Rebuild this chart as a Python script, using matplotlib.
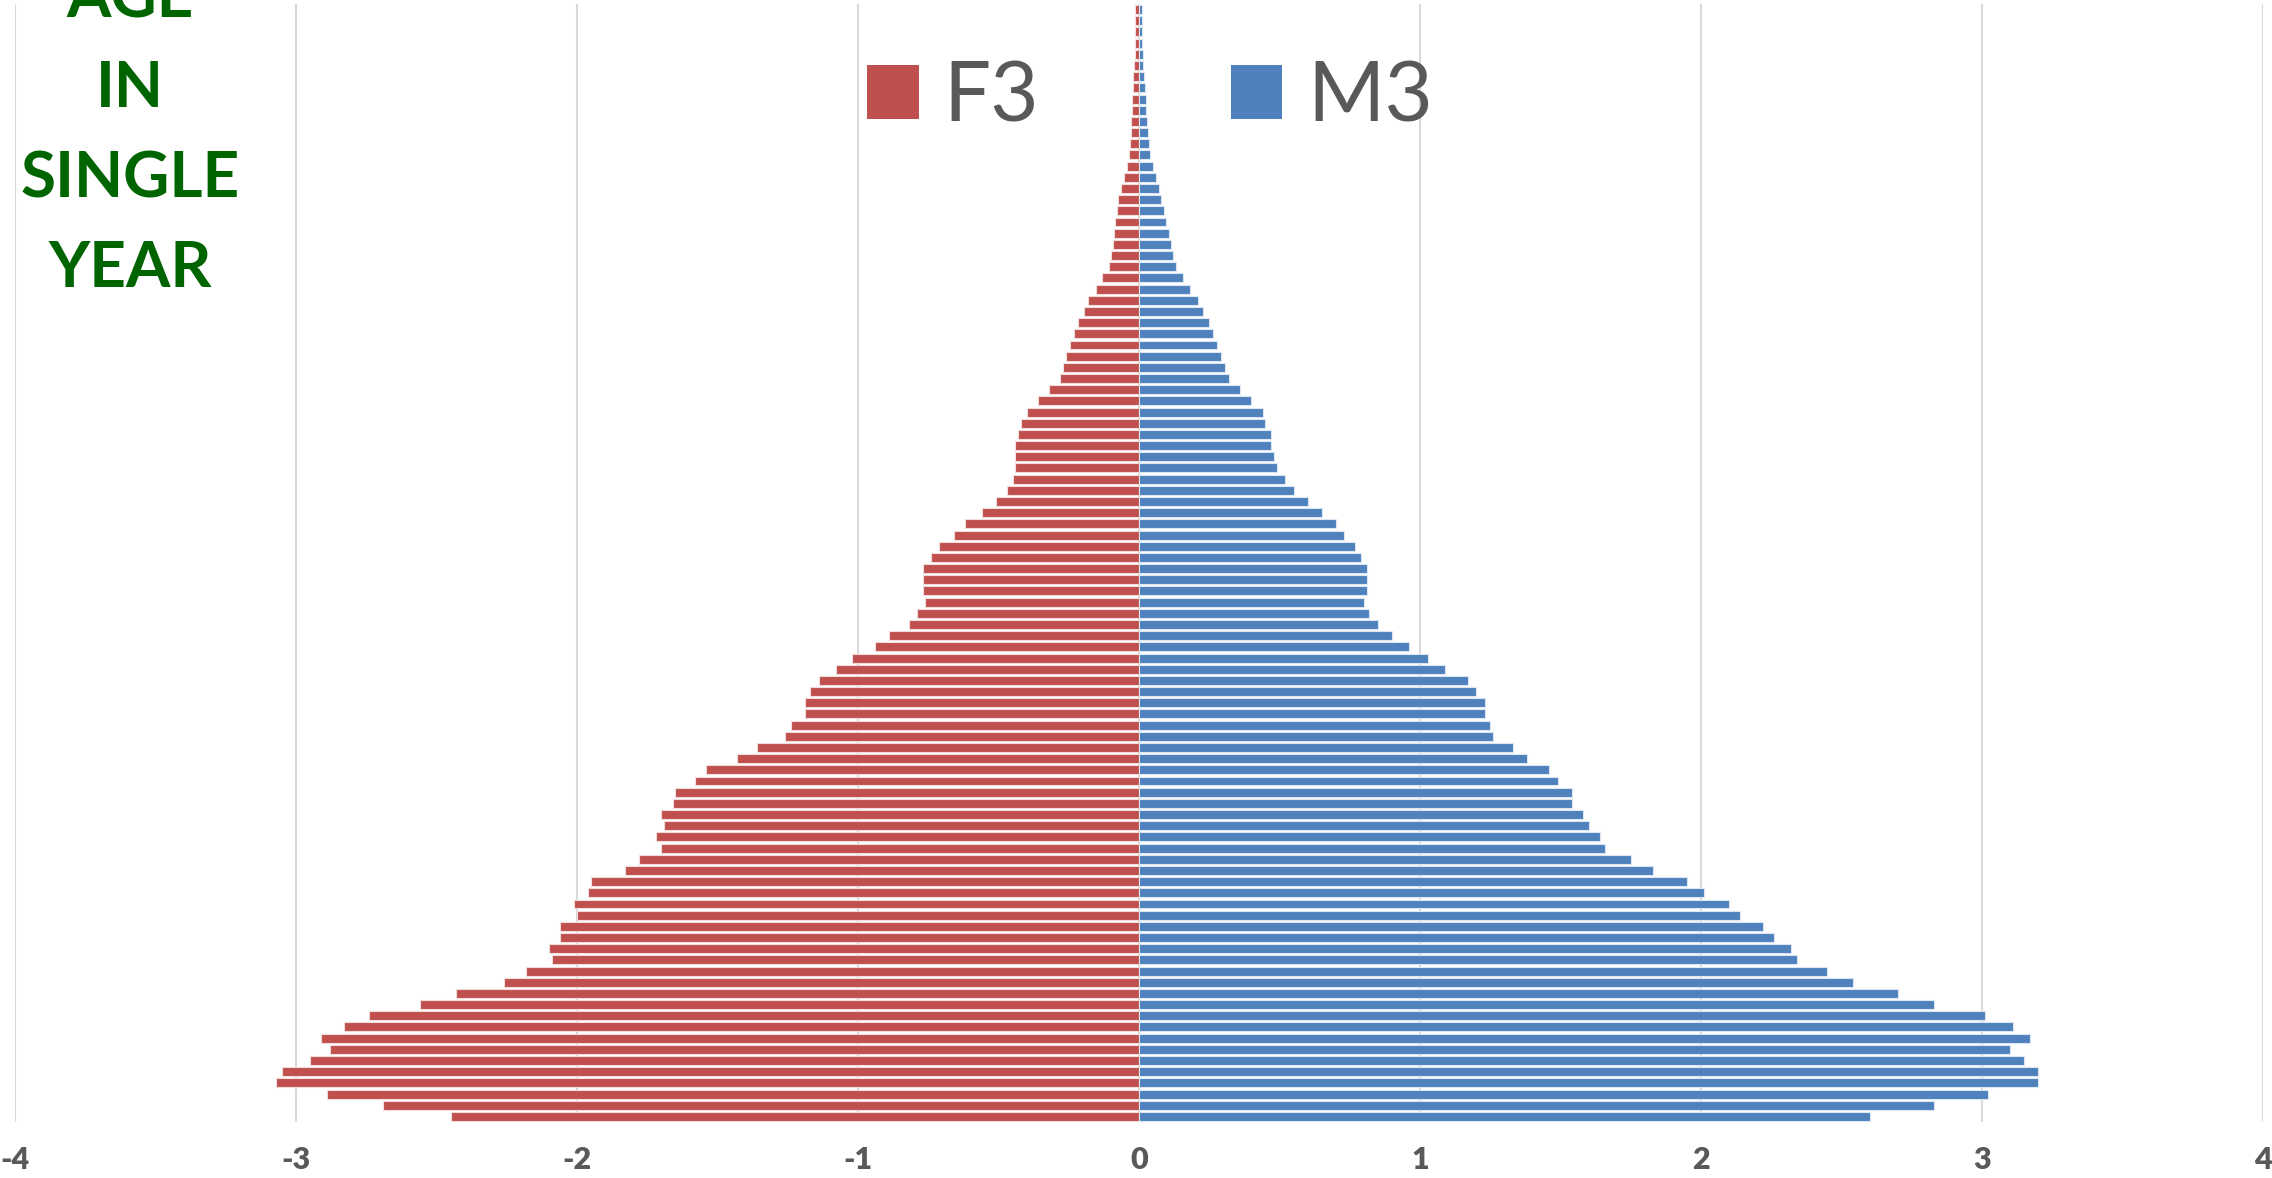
import matplotlib.pyplot as plt
from matplotlib.patches import Patch

plt.rcParams['axes.unicode_minus'] = False

ages = list(range(100))

female = [-2.45, -2.69, -2.89, -3.07, -3.05, -2.95, -2.88, -2.91, -2.83, -2.74,
          -2.56, -2.43, -2.26, -2.18, -2.09, -2.10, -2.06, -2.06, -2.00, -2.01,
          -1.96, -1.95, -1.83, -1.78, -1.70, -1.72, -1.69, -1.70, -1.66, -1.65,
          -1.58, -1.54, -1.43, -1.36, -1.26, -1.24, -1.19, -1.19, -1.17, -1.14,
          -1.08, -1.02, -0.94, -0.89, -0.82, -0.79, -0.76, -0.77, -0.77, -0.77,
          -0.74, -0.71, -0.66, -0.62, -0.56, -0.51, -0.47, -0.45, -0.44, -0.44,
          -0.44, -0.43, -0.42, -0.40, -0.36, -0.32, -0.28, -0.27, -0.26, -0.246,
          -0.233, -0.217, -0.197, -0.183, -0.154, -0.132, -0.108, -0.098, -0.092, -0.090,
          -0.084, -0.079, -0.073, -0.065, -0.054, -0.044, -0.035, -0.032, -0.030, -0.029,
          -0.025, -0.024, -0.021, -0.021, -0.017, -0.016, -0.013, -0.013, -0.014, -0.014]

male = [2.60, 2.83, 3.02, 3.20, 3.20, 3.15, 3.10, 3.17, 3.11, 3.01,
        2.83, 2.70, 2.54, 2.45, 2.34, 2.32, 2.26, 2.22, 2.14, 2.10,
        2.01, 1.95, 1.83, 1.75, 1.66, 1.64, 1.60, 1.58, 1.54, 1.54,
        1.49, 1.46, 1.38, 1.33, 1.26, 1.25, 1.23, 1.23, 1.20, 1.17,
        1.09, 1.03, 0.96, 0.90, 0.85, 0.82, 0.80, 0.81, 0.81, 0.81,
        0.79, 0.77, 0.73, 0.70, 0.65, 0.60, 0.55, 0.52, 0.49, 0.48,
        0.47, 0.47, 0.45, 0.44, 0.40, 0.36, 0.32, 0.306, 0.291, 0.279,
        0.263, 0.248, 0.229, 0.211, 0.183, 0.157, 0.132, 0.122, 0.113, 0.106,
        0.097, 0.089, 0.079, 0.070, 0.059, 0.051, 0.040, 0.037, 0.033, 0.030,
        0.025, 0.024, 0.021, 0.019, 0.016, 0.013, 0.010, 0.010, 0.010, 0.010]

xticks = [-4, -3, -2, -1, 0, 1, 2, 3, 4]
xtick_labels = ['-4', '-3', '-2', '-1', '0', '1', '2', '3', '4']
title_lines = ['AGE', 'IN', 'SINGLE', 'YEAR']

RED = '#C0504D'
BLUE = '#4F81BD'
GREY = '#595959'

fig = plt.figure(figsize=(22.72, 11.78), dpi=100)
ax = fig.add_axes([15 / 2272, 1 - 1122 / 1178, 2248 / 2272, 1118 / 1178])

ax.barh(ages, female, height=0.8, color=RED, edgecolor='#F2DCDB', linewidth=0.8, zorder=3)
ax.barh(ages, male, height=0.8, color=BLUE, edgecolor='#DCE6F2', linewidth=0.8, zorder=3)

ax.set_xlim(-4, 4)
ax.set_ylim(-0.5, 99.5)
ax.set_xticks(xticks)
ax.set_xticklabels(xtick_labels, fontsize=22, fontweight='heavy', color=GREY, family='Lato')
ax.set_yticks([])
ax.tick_params(axis='x', length=0, pad=17)
ax.grid(axis='x', color='#D9D9D9', linewidth=1.5, zorder=0)
for s in ax.spines.values():
    s.set_visible(False)

handles = [Patch(facecolor=RED, label='F3'), Patch(facecolor=BLUE, label='M3')]
leg = fig.legend(handles=handles, loc='center', bbox_to_anchor=(1150 / 2272, 1 - 98 / 1178),
                 ncol=2, frameon=False, handlelength=0.62, handleheight=0.62,
                 handletextpad=0.3, columnspacing=2.3, prop={'family': 'Lato', 'size': 60})
for t in leg.get_texts():
    t.set_color(GREY)

# stacked green title at the top left (first line is clipped by the edge, as in the original)
baselines = [17, 107, 197, 287]
for line, yb in zip(title_lines, baselines):
    fig.text(130 / 2272, 1 - yb / 1178, line, ha='center', va='baseline',
             fontsize=46, fontweight='bold', color='#006400', family='Lato')

plt.savefig('out.png', dpi=100)
